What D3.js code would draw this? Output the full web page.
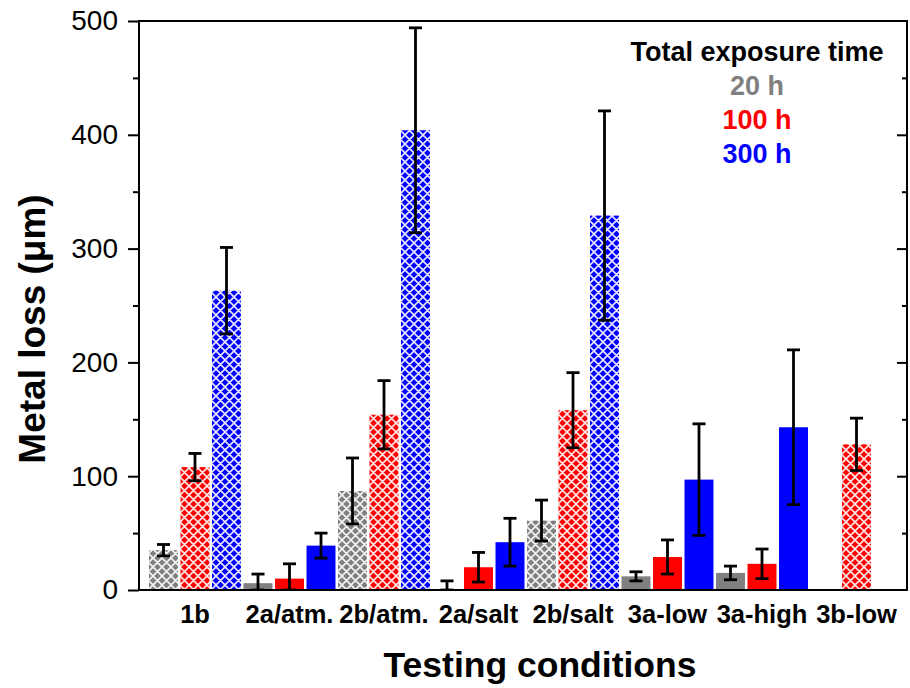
<!DOCTYPE html>
<html><head><meta charset="utf-8">
<script src="https://cdn.jsdelivr.net/npm/d3@7"></script>
<style>body{margin:0;background:#fff}svg{display:block;font-family:"Liberation Sans",Arial,sans-serif}</style>
</head><body><svg id="c" width="910" height="688"></svg>
<script>
const categories = ["1b","2a/atm.","2b/atm.","2a/salt","2b/salt","3a-low","3a-high","3b-low"];
const seriesNames = ["20 h","100 h","300 h"];
const seriesColors = ["#808080","#ff0000","#0000ff"];
const hatched = [true,false,true,false,true,false,false,true];
const values20  = [35, 6, 87, 0, 61, 12, 15, null];
const err20     = [5, 8, 29, 8, 18, 4, 6, null];
const values100 = [108, 10, 154, 20, 158, 29, 23, 128];
const err100    = [12, 13, 30, 13, 33, 15, 13, 23];
const values300 = [263, 39, 404, 42, 329, 97, 143, null];
const err300    = [38, 11, 90, 21, 92, 49, 68, null];
const yTicks = [0,100,200,300,400,500];
const yMinor = [50,150,250,350,450];

const svg = d3.select("#c");
const L=139, R=907, T=21, B=590;
const y = d3.scaleLinear().domain([0,500]).range([B,T]);
const x = d3.scaleBand().domain(categories).range([147.75, 903.75]).padding(0);
const xs = d3.scaleBand().domain(seriesNames).range([0, x.bandwidth()]).paddingInner(0.08).paddingOuter(0.04);

const defs = svg.append("defs");
seriesColors.forEach((c,i)=>{
  const p = defs.append("pattern").attr("id","h"+i).attr("patternUnits","userSpaceOnUse")
    .attr("width",9).attr("height",9);
  p.append("rect").attr("width",9).attr("height",9).attr("fill",c);
  p.append("path").attr("d","M-2,-2L11,11M11,-2L-2,11M-2,7L2,11M7,-2L11,2M7,11L11,7M-2,2L2,-2")
    .attr("stroke","#fff").attr("stroke-width",1.6).attr("stroke-opacity",0.9);
});
defs.append("clipPath").attr("id","clip").append("rect").attr("x",L).attr("y",T).attr("width",R-L).attr("height",B-T);

const allVals=[values20,values100,values300], allErr=[err20,err100,err300];
const data=[];
categories.forEach((cat,ci)=>{
  seriesNames.forEach((s,si)=>{
    const v=allVals[si][ci];
    if(v===null) return;
    data.push({cat,ci,s,si,v,e:allErr[si][ci]});
  });
});

const g = svg.append("g").attr("clip-path","url(#clip)");
g.selectAll("rect.bar").data(data).join("rect").attr("class","bar")
  .attr("x",d=>x(d.cat)+xs(d.s)).attr("width",xs.bandwidth())
  .attr("y",d=>y(d.v)).attr("height",d=>y(0)-y(d.v))
  .attr("fill",d=>hatched[d.ci]?`url(#h${d.si})`:seriesColors[d.si]);

const eg = svg.append("g").attr("clip-path","url(#clip)").attr("stroke","#000").attr("stroke-width",2.8);
data.forEach(d=>{
  const cx = x(d.cat)+xs(d.s)+xs.bandwidth()/2;
  const lo = Math.max(0,d.v-d.e), hi=d.v+d.e;
  eg.append("line").attr("x1",cx).attr("x2",cx).attr("y1",y(lo)).attr("y2",y(hi));
  eg.append("line").attr("x1",cx-6.5).attr("x2",cx+6.5).attr("y1",y(hi)).attr("y2",y(hi));
  eg.append("line").attr("x1",cx-6.5).attr("x2",cx+6.5).attr("y1",y(lo)).attr("y2",y(lo));
});

// frame
svg.append("rect").attr("x",L).attr("y",T).attr("width",R-L).attr("height",B-T)
  .attr("fill","none").attr("stroke","#000").attr("stroke-width",2);

// left axis
const ay = svg.append("g").attr("transform",`translate(${L},0)`)
  .call(d3.axisLeft(y).tickValues(yTicks).tickSize(11).tickPadding(10).tickFormat(d3.format("d")));
ay.select(".domain").remove();
ay.selectAll("line").attr("stroke-width",2);
ay.selectAll("text").attr("font-size",28).attr("fill","#000").attr("font-family","Liberation Sans, Arial, sans-serif");
svg.append("g").attr("transform",`translate(${L},0)`)
  .call(d3.axisLeft(y).tickValues(yMinor).tickSize(6).tickFormat(""))
  .call(a=>{a.select(".domain").remove();a.selectAll("line").attr("stroke-width",2);});
// right axis (inward ticks)
svg.append("g").attr("transform",`translate(${R},0)`)
  .call(d3.axisLeft(y).tickValues(yTicks.slice(1,-1)).tickSize(10).tickFormat(""))
  .call(a=>{a.select(".domain").remove();a.selectAll("line").attr("stroke-width",2);});
svg.append("g").attr("transform",`translate(${R},0)`)
  .call(d3.axisLeft(y).tickValues(yMinor).tickSize(5).tickFormat(""))
  .call(a=>{a.select(".domain").remove();a.selectAll("line").attr("stroke-width",2);});

// x axis labels
const ax = svg.append("g").attr("transform",`translate(0,${B})`)
  .call(d3.axisBottom(x).tickSize(0).tickPadding(10));
ax.select(".domain").remove();
ax.selectAll("text").attr("font-size",25.5).attr("font-weight","bold").attr("fill","#000")
  .attr("font-family","Liberation Sans, Arial, sans-serif").attr("dy","0.72em").attr("y",15);

// axis titles
svg.append("text").attr("x",540).attr("y",677).attr("text-anchor","middle")
  .attr("font-size",35.5).attr("font-weight","bold").text("Testing conditions");
svg.append("text").attr("transform","translate(45,329) rotate(-90)").attr("text-anchor","middle")
  .attr("font-size",37).attr("font-weight","bold").text("Metal loss (μm)");

// legend
const lg = svg.append("g").attr("font-weight","bold").attr("font-size",27).attr("text-anchor","middle");
lg.append("text").attr("x",757).attr("y",61).attr("fill","#000").text("Total exposure time");
seriesNames.forEach((s,i)=>{
  lg.append("text").attr("x",757).attr("y",95+i*34).attr("fill",seriesColors[i]).text(s);
});
</script></body></html>
